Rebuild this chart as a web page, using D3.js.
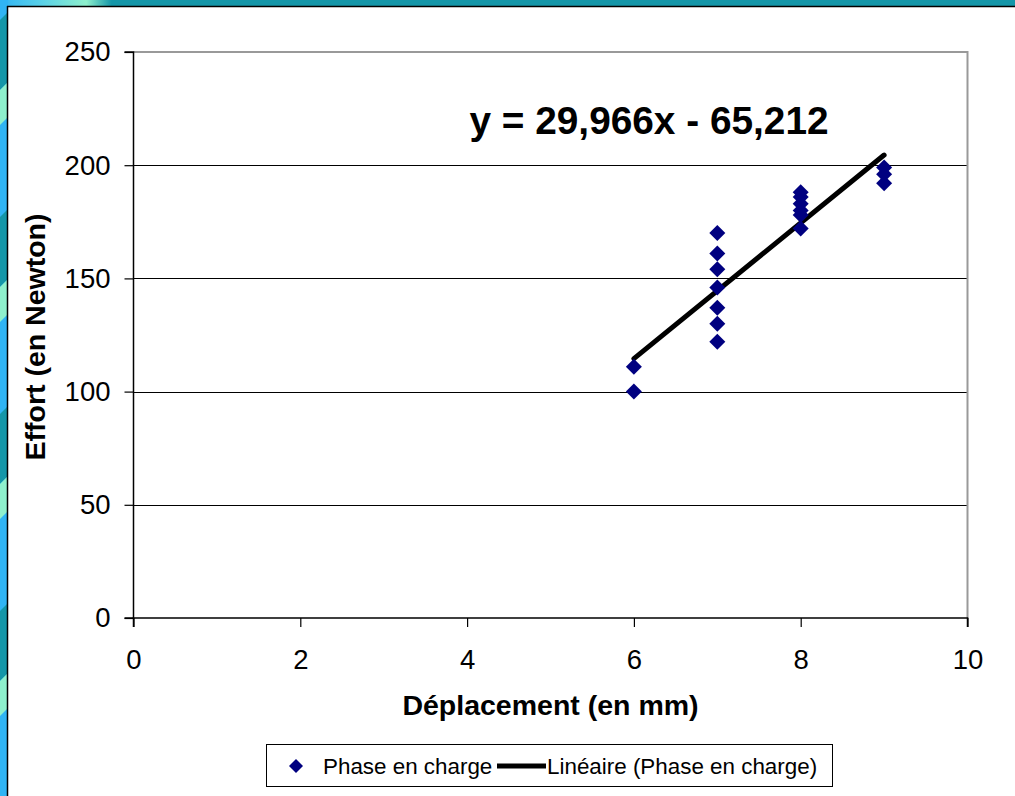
<!DOCTYPE html>
<html><head><meta charset="utf-8">
<script src="https://cdn.jsdelivr.net/npm/d3@7"></script>
<style>html,body{margin:0;padding:0;background:#fff;overflow:hidden}svg{display:block}</style>
</head><body>
<script>
// ---- data ----
const xs6 = [6, 6];
const ys6 = [111, 100];
const xs7 = [7, 7, 7, 7, 7, 7, 7];
const ys7 = [170, 161, 154, 146, 137, 130, 122];
const xs8 = [8, 8, 8, 8, 8, 8];
const ys8 = [188, 186, 183, 180, 178, 172];
const xs9 = [9, 9, 9];
const ys9 = [199, 196, 192];
const trendSlope = 29.966;
const trendIntercept = -65.212;
const trendRange = [6, 9];
const xTicks = [0, 2, 4, 6, 8, 10];
const yTicks = [0, 50, 100, 150, 200, 250];
const equationLabel = "y = 29,966x - 65,212";
const xTitle = "Déplacement (en mm)";
const yTitle = "Effort (en Newton)";
const legendLabels = ["Phase en charge", "Linéaire (Phase en charge)"];

const points = [];
[[xs6, ys6], [xs7, ys7], [xs8, ys8], [xs9, ys9]].forEach(([xa, ya]) => xa.forEach((x, i) => points.push({x, y: ya[i]})));

const W = 1015, H = 796;
const svg = d3.select("body").append("svg").attr("width", W).attr("height", H);
const font = "'Liberation Sans', Arial, sans-serif";

// ---- decorative frame ----
const defs = svg.append("defs");
const tg = defs.append("linearGradient").attr("id", "topg").attr("x1", 0).attr("x2", 1);
tg.append("stop").attr("offset", 0).attr("stop-color", "#30b4f4");
tg.append("stop").attr("offset", 0.04).attr("stop-color", "#58d0e8");
tg.append("stop").attr("offset", 0.085).attr("stop-color", "#8ef0cc");
tg.append("stop").attr("offset", 0.11).attr("stop-color", "#1496a8");
tg.append("stop").attr("offset", 1).attr("stop-color", "#1496a8");
svg.append("rect").attr("x", 0).attr("y", 0).attr("width", W).attr("height", 7).attr("fill", "url(#topg)");

const strip = svg.append("g");
strip.append("rect").attr("x", 0).attr("y", 0).attr("width", 8).attr("height", H).attr("fill", "#30b4f4");
const period = 197;
for (let k = -1; k < 5; k++) {
  const o = 20 + k * period;
  strip.append("polygon").attr("fill", "#1496a8")
    .attr("points", `0,${o} 8,${o - 8} 8,${o + 62} 0,${o + 70}`);
  strip.append("polygon").attr("fill", "#8ef0cc")
    .attr("points", `0,${o + 70} 8,${o + 62} 8,${o + 97} 0,${o + 105}`);
}
svg.append("rect").attr("x", 8).attr("y", 7).attr("width", W - 8).attr("height", H - 7).attr("fill", "#fff");
svg.append("line").attr("x1", 7.5).attr("x2", 7.5).attr("y1", 6).attr("y2", H).attr("stroke", "#000").attr("stroke-width", 1.5);
svg.append("line").attr("x1", 7).attr("x2", W).attr("y1", 6.5).attr("y2", 6.5).attr("stroke", "#000").attr("stroke-width", 1.5);

// ---- scales ----
const L = 133.5, R = 967.5, T = 52, B = 618;
const x = d3.scaleLinear().domain([0, 10]).range([L, R]);
const y = d3.scaleLinear().domain([0, 250]).range([B, T]);

// gridlines
svg.append("g").selectAll("line").data(yTicks.filter(v => v > 0 && v < 250)).join("line")
  .attr("x1", L).attr("x2", R).attr("y1", d => Math.round(y(d)) + 0.5).attr("y2", d => Math.round(y(d)) + 0.5)
  .attr("stroke", "#000").attr("stroke-width", 1);

// plot border top & right (gray)
svg.append("path").attr("d", `M${L},${T} H${R} V${B}`).attr("fill", "none").attr("stroke", "#999").attr("stroke-width", 2);

// axes
const yAxis = d3.axisLeft(y).tickValues(yTicks).tickSize(9).tickPadding(14).tickFormat(d3.format("d"));
const gy = svg.append("g").attr("transform", `translate(${L},0)`).call(yAxis);
const xAxis = d3.axisBottom(x).tickValues(xTicks).tickSize(9).tickPadding(22).tickFormat(d3.format("d"));
const gx = svg.append("g").attr("transform", `translate(0,${B})`).call(xAxis);
[gx, gy].forEach(g => {
  g.select(".domain").attr("stroke", "#000").attr("stroke-width", 1.5);
  g.selectAll(".tick line").attr("stroke", "#000").attr("stroke-width", 1.2);
  g.selectAll("text").attr("font-family", font).attr("font-size", 27.5).attr("fill", "#000");
});
gy.select(".domain").attr("d", `M-9,${T}H0V${B}H-9`);
gx.select(".domain").attr("d", `M${L},9V0H${R}V9`);

// axis titles
svg.append("text").attr("x", x(5)).attr("y", 715).attr("text-anchor", "middle")
  .attr("font-family", font).attr("font-weight", "bold").attr("font-size", 28.5).text(xTitle);
svg.append("text").attr("transform", `translate(45,${(T + B) / 2 + 2}) rotate(-90)`).attr("text-anchor", "middle")
  .attr("font-family", font).attr("font-weight", "bold").attr("font-size", 28.5).text(yTitle);

// trendline
const tl = trendRange.map(v => [v, trendSlope * v + trendIntercept]);
svg.append("path").attr("d", d3.line().x(d => x(d[0])).y(d => y(d[1]))(tl))
  .attr("stroke", "#000").attr("stroke-width", 5).attr("stroke-linecap", "round").attr("fill", "none");

// points
const diamond = "M0,-8L8,0L0,8L-8,0Z";
svg.append("g").selectAll("path").data(points).join("path")
  .attr("d", diamond).attr("transform", d => `translate(${x(d.x)},${y(d.y)})`).attr("fill", "#000080");

// equation
svg.append("text").attr("x", 649).attr("y", 134).attr("text-anchor", "middle")
  .attr("font-family", font).attr("font-weight", "bold").attr("font-size", 38.8).text(equationLabel);

// legend
const lg = svg.append("g");
lg.append("rect").attr("x", 266.5).attr("y", 744.5).attr("width", 566).attr("height", 42)
  .attr("fill", "#fff").attr("stroke", "#000").attr("stroke-width", 1);
lg.append("path").attr("d", "M0,-7L7,0L0,7L-7,0Z").attr("transform", "translate(296,766)").attr("fill", "#000080");
lg.append("text").attr("x", 323).attr("y", 774).attr("font-family", font).attr("font-size", 22.4).text(legendLabels[0]);
lg.append("line").attr("x1", 497).attr("x2", 546).attr("y1", 766).attr("y2", 766).attr("stroke", "#000").attr("stroke-width", 5);
lg.append("text").attr("x", 547).attr("y", 774).attr("font-family", font).attr("font-size", 22.4).text(legendLabels[1]);
</script>
</body></html>
